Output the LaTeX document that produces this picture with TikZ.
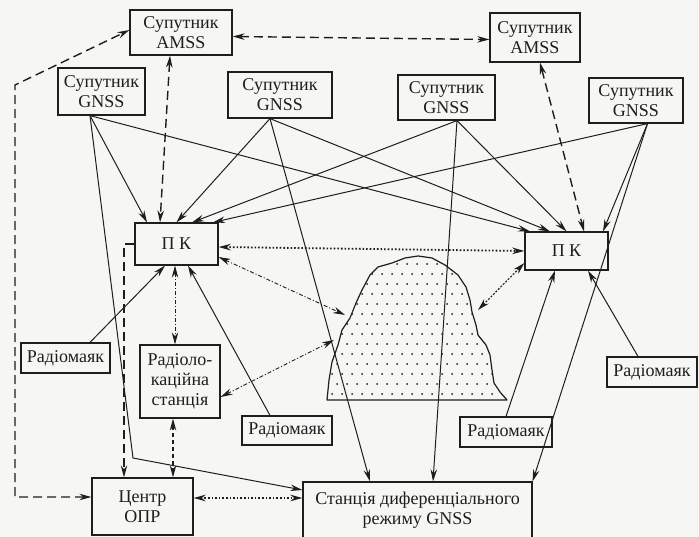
\documentclass[tikz,border=0pt]{standalone}
\usepackage{fontspec}
\setmainfont{Liberation Serif}
\usetikzlibrary{arrows.meta}
\definecolor{paper}{RGB}{246,246,244}
\definecolor{ink}{RGB}{30,30,30}
\def\blobpath{(327,400) -- (329,380) -- (332,362) -- (338,345) -- (342,330) -- (350,318)
	-- (356,303) -- (362,290) -- (370,275) -- (378,267) -- (392,263) -- (405,258) -- (418,256)
	-- (432,258) -- (445,265) -- (458,275) -- (466,287) -- (470,300) -- (472,312) -- (476,325)
	-- (478,335) -- (486,345) -- (490,355) -- (492,370) -- (494,383) -- (500,392) -- (507,400) -- cycle}

\begin{document}
\begin{tikzpicture}[x=1pt,y=-1pt,ink,>={Stealth[length=12pt,width=6.5pt]},
	box/.style={draw,line width=1.2pt,align=center,inner sep=0pt,font=\fontsize{18}{20}\selectfont},
	sig/.style={line width=1pt,->},
	amsslink/.style={line width=1.4pt,dash pattern=on 9pt off 5pt},
	shortlink/.style={line width=1.4pt,dash pattern=on 4pt off 3pt},
	dotlink/.style={line width=1.8pt,dash pattern=on 1.6pt off 2pt},
	dashdotlink/.style={line width=0.9pt,dash pattern=on 4pt off 2pt on 1pt off 2pt},
	finelink/.style={line width=1.1pt,dash pattern=on 2pt off 1.5pt}]
	\fill[paper] (0,0) rectangle (699,537);
	\useasboundingbox (0,0) rectangle (699,537);
	
	%AREA
	\begin{scope}
	\clip \blobpath;
	\foreach \j in {0,...,15}{
		\foreach \i in {0,...,19}
		\fill ({322+10*\i+5*mod(\j,2)},{254+10*\j}) circle (1pt);
		}
	\end{scope}
	\draw[line width=1.2pt,line join=round] \blobpath;
	\coordinate (blobA) at (345,315);
	\coordinate (blobB) at (334,340);
	\coordinate (blobC) at (478,310);
	\coordinate (bendA) at (133,458);
	\coordinate (loopTop) at (15,85);
	
	%BOXES
	\node[box,minimum width=102,minimum height=45] (amssA) at (181,32.5) {Супутник\\AMSS};
	\node[box,minimum width=90,minimum height=49] (amssB) at (535,37.5) {Супутник\\AMSS};
	\node[box,minimum width=87,minimum height=47] (gnssA) at (101.5,91.5) {Супутник\\GNSS};
	\node[box,minimum width=104,minimum height=46] (gnssB) at (280,95) {Супутник\\GNSS};
	\node[box,minimum width=97,minimum height=45] (gnssC) at (446.5,97.5) {Супутник\\GNSS};
	\node[box,minimum width=94,minimum height=45] (gnssD) at (636,100.5) {Супутник\\GNSS};
	\node[box,minimum width=83,minimum height=42] (pkA) at (176.5,244) {П К};
	\node[box,minimum width=83,minimum height=38] (pkB) at (566.5,251) {П К};
	\node[box,minimum width=89,minimum height=30] (beaconA) at (65.5,358) {Радіомаяк};
	\node[box,minimum width=80,minimum height=73] (radar) at (180,381.5) {Радіоло-\\каційна\\станція};
	\node[box,minimum width=90,minimum height=29] (beaconB) at (287,430.5) {Радіомаяк};
	\node[box,minimum width=92,minimum height=30] (beaconC) at (506,432) {Радіомаяк};
	\node[box,minimum width=90,minimum height=30] (beaconD) at (652,372) {Радіомаяк};
	\node[box,minimum width=101,minimum height=57] (centre) at (142.5,506.5) {Центр\\ОПР};
	\node[box,minimum width=229,minimum height=56] (dgnss) at (417.5,510) {Станція диференціального\\режиму GNSS};
	
	%SOLID ARROWS
	%satellites to both PK
	\foreach \sat/\from/\toA/\toB in {gnssA/-11.5/-29.5/-36.5, gnssB/-10/0/-16.5,
		gnssC/10.5/15.5/0, gnssD/11.5/36.5/36.5}{
	\draw[sig] ([xshift=\from pt]\sat.south) -- ([xshift=\toA pt]pkA.north);
	\draw[sig] ([xshift=\from pt]\sat.south) -- ([xshift=\toB pt]pkB.north);
		}
	%satellites to differential station
	\draw[sig] ([xshift=-11.5pt]gnssA.south) -- (bendA) -- ([yshift=20pt]dgnss.west);
	\draw[sig] ([xshift=-10pt]gnssB.south) -- ([xshift=-47.5pt]dgnss.north);
	\draw[sig] ([xshift=10.5pt]gnssC.south) -- ([xshift=15.5pt]dgnss.north);
	\draw[sig] ([xshift=11.5pt]gnssD.south) -- (dgnss.north east);
	%beacons
	\draw[sig] ([xshift=24.5pt]beaconA.north) -- ([xshift=-11.5pt]pkA.south);
	\draw[sig] ([xshift=-17pt]beaconB.north) -- ([xshift=11.5pt]pkA.south);
	\draw[sig] (beaconC.north) -- ([xshift=-11.5pt]pkB.south);
	\draw[sig] ([xshift=-14pt]beaconD.north) -- ([xshift=21.5pt]pkB.south);
	
	%DASHED
	\draw[amsslink,<->] ([yshift=-4pt]amssA.east) -- ([yshift=-2pt]amssB.west);
	\draw[amsslink,<->] ([xshift=-11pt]amssA.south) -- ([xshift=-16.5pt]pkA.north);
	\draw[amsslink,<->] ([xshift=5pt]amssB.south) -- ([xshift=17.5pt]pkB.north);
	\draw[amsslink,<->] ([yshift=9.5pt]centre.west) -| (loopTop) -- ([yshift=2.5pt]amssA.west);
	\draw[amsslink,->] (pkA.west) -| ([xshift=-18.5pt]centre.north);
	\draw[shortlink,<->] ([xshift=-7pt]radar.south) -- ([xshift=30.5pt]centre.north);
	
	%DOTTED
	\draw[dotlink,<->] ([yshift=-3pt]pkA.east) -- (pkB.west);
	\draw[dotlink,<->] ([yshift=8.5pt]centre.east) -- ([yshift=12pt]dgnss.west);
	\draw[dashdotlink,<->] ([yshift=-13pt]pkA.east) -- (blobA);
	\draw[dashdotlink,<->] ([xshift=-1.5pt]pkA.south) -- ([xshift=-5pt]radar.north);
	\draw[dashdotlink,<->] ([yshift=-15.5pt]radar.east) -- (blobB);
	\draw[finelink,<->] ([yshift=-12pt]pkB.west) -- (blobC);
\end{tikzpicture}
\end{document}
